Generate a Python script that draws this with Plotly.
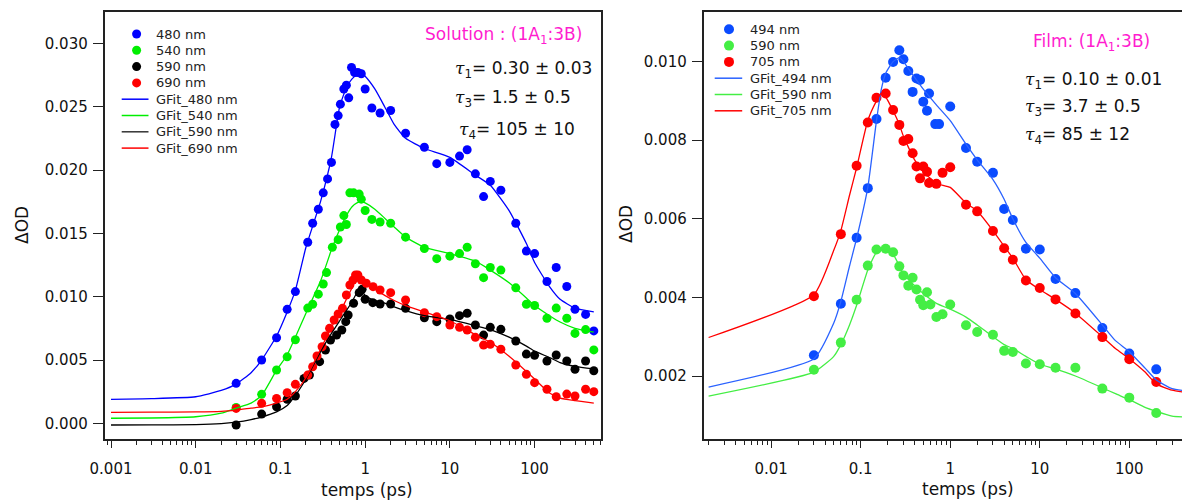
import plotly.graph_objects as go

# ---------------- data: left panel (Solution) ----------------
t_480 = [0.03,0.06,0.09,0.12,0.15,0.21,0.24,0.28,0.32,0.36,0.40,0.44,0.48,0.51,0.56,0.60,0.64,0.69,0.75,0.82,
         0.90,1.0,1.2,1.5,2,3,5,7,10,13,16,20,25,30,40,60,80,100,140,180,240,300,400,500]
v_480 = [0.00316,0.0050,0.00676,0.0090,0.0104,0.0143,0.0158,0.0169,0.0182,0.0193,0.0206,0.0236,0.0243,0.0252,0.0264,
         0.0267,0.0257,0.0281,0.0277,0.0277,0.0276,0.0264,0.0249,0.0245,0.0247,0.0229,0.0218,0.0205,0.0206,0.0211,
         0.0216,0.0197,0.0179,0.0191,0.0184,0.0158,0.0136,0.0134,0.0112,0.0123,0.0108,0.0090,0.0086,0.0073]

t_540 = [0.03,0.06,0.09,0.12,0.15,0.21,0.24,0.28,0.32,0.35,0.41,0.48,0.51,0.56,0.60,0.66,0.73,0.85,0.90,1.0,
         1.2,1.5,2,3,5,7,10,13,16,20,25,30,40,60,80,100,140,180,240,300,400,500]
v_540 = [0.00126,0.00229,0.00421,0.00525,0.0066,0.0091,0.0094,0.0102,0.0110,0.0119,0.0139,0.0145,0.0155,0.0164,
         0.0157,0.0182,0.0182,0.0181,0.0177,0.0168,0.0161,0.0159,0.0158,0.0147,0.0138,0.0130,0.0132,0.0134,0.0139,
         0.0126,0.0115,0.0123,0.0121,0.0107,0.0094,0.0093,0.0083,0.0091,0.0083,0.0071,0.0074,0.0058]

t_590 = [0.03,0.06,0.09,0.12,0.15,0.19,0.22,0.29,0.34,0.39,0.46,0.53,0.59,0.63,0.73,0.85,0.92,1.0,1.23,1.5,
         2,3,5,7,10,13,16,20,25,30,40,60,80,100,140,180,240,300,400,500]
v_590 = [-0.00013,0.00073,0.00131,0.0019,0.00216,0.00355,0.00381,0.00487,0.00579,0.00658,0.00697,0.00737,0.00803,
         0.00855,0.00948,0.01032,0.01058,0.0098,0.00953,0.00942,0.00942,0.00908,0.00834,0.00803,0.00824,0.0085,
         0.00869,0.00776,0.00697,0.00758,0.00742,0.0065,0.00547,0.00537,0.00492,0.0054,0.00492,0.00427,0.00492,0.00415]

t_690 = [0.03,0.06,0.09,0.12,0.15,0.21,0.24,0.27,0.31,0.34,0.38,0.43,0.48,0.54,0.60,0.66,0.72,0.77,0.82,0.90,
         1.03,1.24,1.5,2,3,5,7,10,13,16,20,25,30,40,60,80,100,140,180,240,300,400,500]
v_690 = [0.00118,0.00158,0.00197,0.00242,0.00308,0.00381,0.00447,0.00532,0.00605,0.0069,0.0075,0.00816,0.00863,
         0.00908,0.01013,0.01092,0.01132,0.01171,0.01171,0.01132,0.01106,0.01079,0.01053,0.01032,0.00974,0.00874,
         0.00842,0.00776,0.00758,0.00737,0.00679,0.00618,0.00624,0.00585,0.00461,0.00387,0.00321,0.00269,0.0021,
         0.00231,0.00216,0.00269,0.0025]

fit_t_L = [0.001,0.003,0.01,0.02,0.03,0.045,0.06,0.09,0.12,0.15,0.2,0.3,0.4,0.5,0.6,0.7,0.8,0.9,1.0,1.3,1.7,2.2,
           3,5,10,20,30,50,80,100,150,200,300,500]
fit_480 = [0.0019,0.00195,0.0021,0.0026,0.0031,0.0040,0.0050,0.0069,0.0088,0.0105,0.0139,0.0176,0.0210,0.0250,
           0.0265,0.0272,0.0275,0.02765,0.0274,0.0264,0.0250,0.0236,0.0225,0.0217,0.0210,0.0196,0.0188,0.0168,
           0.0142,0.0127,0.0108,0.0098,0.0091,0.0088]
fit_540 = [0.0004,0.00042,0.00052,0.0008,0.0012,0.0016,0.0022,0.0042,0.0054,0.0068,0.0087,0.0113,0.0137,0.0153,
           0.0164,0.0171,0.0174,0.0175,0.0174,0.0169,0.0162,0.0155,0.0147,0.0139,0.0134,0.0128,0.0121,0.0111,
           0.0099,0.0093,0.0085,0.0080,0.0075,0.0072]
fit_590 = [-0.00013,-0.00012,-0.0001,-0.00002,0.0001,0.0003,0.0005,0.0009,0.0014,0.0022,0.0035,0.0057,0.0071,
           0.0081,0.0089,0.0096,0.0103,0.0105,0.0101,0.0097,0.0095,0.0092,0.0089,0.0085,0.0082,0.0077,0.0074,
           0.0068,0.0061,0.0057,0.0052,0.0048,0.0045,0.0043]
fit_690 = [0.00087,0.00088,0.0009,0.00095,0.00105,0.0012,0.0013,0.0016,0.0019,0.0025,0.0036,0.0059,0.0076,0.0087,
           0.0098,0.0107,0.0115,0.0113,0.0111,0.0106,0.0101,0.0097,0.0093,0.0088,0.0081,0.0070,0.0064,0.0053,
           0.0041,0.0035,0.0024,0.0020,0.0018,0.0016]

# ---------------- data: right panel (Film) ----------------
t_494 = [0.03,0.06,0.09,0.12,0.15,0.19,0.23,0.27,0.30,0.34,0.38,0.42,0.46,0.50,0.55,0.58,0.68,0.75,1.0,1.5,
         2,3,4,5,7,10,15,25,50,100,200]
v_494 = [0.00253,0.00384,0.00552,0.00678,0.00854,0.00959,0.00999,0.01029,0.01006,0.00976,0.00923,0.00957,0.00953,
         0.00898,0.00875,0.00919,0.00841,0.00841,0.00886,0.0078,0.00745,0.00717,0.00625,0.00597,0.00524,0.00522,
         0.00447,0.00411,0.00322,0.00257,0.00217]

t_590f = [0.03,0.06,0.09,0.12,0.15,0.19,0.23,0.27,0.30,0.34,0.38,0.42,0.46,0.50,0.55,0.60,0.70,0.82,1.0,1.5,
          2,3,4,5,7,10,15,25,50,100,200,500]
v_590f = [0.00216,0.00285,0.00394,0.00481,0.00522,0.00524,0.00515,0.00479,0.00456,0.0043,0.0045,0.0042,0.00394,
          0.0038,0.00413,0.00382,0.0035,0.00357,0.00382,0.00329,0.00312,0.00305,0.00264,0.00261,0.00232,0.0023,
          0.00221,0.00221,0.00168,0.00145,0.00106,0.00081]

t_705 = [0.03,0.06,0.09,0.12,0.15,0.19,0.23,0.27,0.30,0.34,0.38,0.42,0.46,0.50,0.55,0.58,0.70,0.82,1.0,1.5,
         2,3,4,5,7,10,15,25,50,100,200,500]
v_705 = [0.00403,0.00561,0.00735,0.00845,0.00908,0.00919,0.00877,0.00839,0.00798,0.00803,0.00767,0.00733,0.00703,
         0.00733,0.0072,0.00691,0.00689,0.00717,0.00731,0.00636,0.00619,0.00569,0.00525,0.00496,0.00443,0.00424,
         0.00395,0.00359,0.00299,0.00243,0.00185,0.00149]

fit_t_R = [0.002,0.03,0.05,0.06,0.075,0.09,0.12,0.15,0.17,0.19,0.23,0.27,0.3,0.4,0.5,0.7,1.0,1.5,2,3,4,5,7,10,
           15,25,50,70,100,150,200,300,500]
fit_494 = [0.00172,0.00244,0.00335,0.0039,0.0048,0.0055,0.0068,0.0085,0.0093,0.0097,0.0100,0.0101,0.0100,0.0096,
           0.0093,0.0089,0.0085,0.0079,0.0075,0.0070,0.0065,0.0060,0.0054,0.0050,0.0045,0.0041,0.0033,0.0029,
           0.00262,0.0022,0.0019,0.00168,0.0016]
fit_590f = [0.00149,0.0021,0.0025,0.0028,0.0033,0.0038,0.0047,0.00515,0.0052,0.0052,0.0051,0.0048,0.0046,0.0043,
            0.0041,0.00385,0.0037,0.0035,0.0033,0.0030,0.0028,0.0027,0.0025,0.0023,0.00218,0.0020,0.0017,0.00155,
            0.0014,0.0012,0.0011,0.00098,0.00095]
fit_705 = [0.00298,0.00407,0.0052,0.0057,0.0066,0.0073,0.0085,0.0090,0.0092,0.0091,0.00875,0.0084,0.0081,0.0075,
           0.0072,0.0069,0.0068,0.0064,0.0062,0.0057,0.0053,0.0050,0.00445,0.0042,0.00395,0.0036,0.0030,0.0027,
           0.00244,0.0021,0.0018,0.00164,0.00156]

x_tickvals_L = [0.001, 0.01, 0.1, 1, 10, 100]
x_ticktext_L = ["0.001", "0.01", "0.1", "1", "10", "100"]
x_tickvals_R = [0.01, 0.1, 1, 10, 100]
x_ticktext_R = ["0.01", "0.1", "1", "10", "100"]
y_tickvals_L = [0.0, 0.005, 0.010, 0.015, 0.020, 0.025, 0.030]
y_tickvals_R = [0.002, 0.004, 0.006, 0.008, 0.010]

# ---------------- styling ----------------
# the page body has an 8px margin: the figure is placed at (8, 8) in the window
OFF = 8
W, H = 1190 - OFF, 503 - OFF
FONT = "DejaVu Sans"
def px(x):
    return (x - OFF) / W
def py(y):
    return 1 - (y - OFF) / H

BLUE_L, GREEN_L, BLACK_L, RED_L = "#0000ff", "#00ee00", "#000000", "#ff0000"
BLUE_R, GREEN_R, RED_R = "#0a4bff", "#44ee44", "#ff0000"
BLUE_RL = "#2a62ff"
PINK = "#ff1ccf"

fig = go.Figure()

def add_points(t, v, color, name, xa, ya, size):
    fig.add_trace(go.Scatter(x=t, y=v, mode="markers", name=name, xaxis=xa, yaxis=ya,
                             marker=dict(color=color, size=size, line=dict(width=0)), showlegend=False))

def add_fit(t, v, color, name, xa, ya):
    fig.add_trace(go.Scatter(x=t, y=v, mode="lines", name=name, xaxis=xa, yaxis=ya,
                             line=dict(color=color, width=1.3, shape="spline", smoothing=0.5),
                             showlegend=False))

add_points(t_480, v_480, BLUE_L, "480 nm", "x", "y", 9)
add_points(t_540, v_540, GREEN_L, "540 nm", "x", "y", 9)
add_points(t_590, v_590, BLACK_L, "590 nm", "x", "y", 9)
add_points(t_690, v_690, RED_L, "690 nm", "x", "y", 9)
add_fit(fit_t_L, fit_480, BLUE_L, "GFit_480 nm", "x", "y")
add_fit(fit_t_L, fit_540, GREEN_L, "GFit_540 nm", "x", "y")
add_fit(fit_t_L, fit_590, BLACK_L, "GFit_590 nm", "x", "y")
add_fit(fit_t_L, fit_690, RED_L, "GFit_690 nm", "x", "y")

add_points(t_494, v_494, BLUE_R, "494 nm", "x2", "y2", 10)
add_points(t_590f, v_590f, GREEN_R, "590 nm", "x2", "y2", 10)
add_points(t_705, v_705, RED_R, "705 nm", "x2", "y2", 10)
add_fit(fit_t_R, fit_494, BLUE_RL, "GFit_494 nm", "x2", "y2")
add_fit(fit_t_R, fit_590f, GREEN_R, "GFit_590 nm", "x2", "y2")
add_fit(fit_t_R, fit_705, RED_R, "GFit_705 nm", "x2", "y2")

LINE_C = "#222222"
common_x = dict(type="log", showgrid=False, zeroline=False, showline=True, linecolor=LINE_C, linewidth=1.5,
                mirror=True, ticks="outside", ticklen=7, tickwidth=1, tickcolor=LINE_C, automargin=False,
                tickfont=dict(family=FONT, size=15, color="#111"), tickmode="array",
                minor=dict(ticks="outside", ticklen=4, tickwidth=1, tickcolor=LINE_C, dtick="D1", showgrid=False),
                ticklabelstandoff=8)
common_y = dict(showgrid=False, zeroline=False, showline=True, linecolor=LINE_C, linewidth=1.5,
                ticks="outside", ticklen=10, tickwidth=1, tickcolor=LINE_C, automargin=False,
                tickfont=dict(family=FONT, size=15, color="#111"), tickmode="array", tickformat=".3f",
                ticklabelstandoff=2)

ydom = [py(439.3), py(11.7)]
fig.update_layout(
    width=W, height=H, margin=dict(l=0, r=0, t=0, b=0, autoexpand=False),
    paper_bgcolor="white", plot_bgcolor="white", showlegend=False,
    xaxis=dict(common_x, domain=[px(104.5), px(601)], range=[-3.077, 2.784], anchor="y",
               tickvals=x_tickvals_L, ticktext=x_ticktext_L),
    yaxis=dict(common_y, domain=ydom, range=[-0.00126, 0.0325], anchor="x", mirror=True,
               tickvals=y_tickvals_L),
    xaxis2=dict(common_x, domain=[px(703.5), 1.0], range=[-2.756, 2.678], anchor="y2",
                tickvals=x_tickvals_R, ticktext=x_ticktext_R),
    yaxis2=dict(common_y, domain=ydom, range=[0.00039, 0.01127], anchor="x2", mirror=False,
                tickvals=y_tickvals_R),
)

ann = []
shapes = []

def text(x, y, s, size, color="#111", xanchor="left", family=FONT, angle=0):
    ann.append(dict(x=px(x), y=py(y), xref="paper", yref="paper", text=s, showarrow=False,
                    xanchor=xanchor, yanchor="middle", textangle=angle,
                    font=dict(family=family, size=size, color=color)))

# axis titles
text(367, 490, "temps (ps)", 17, xanchor="center")
text(968, 489, "temps (ps)", 17, xanchor="center")
text(22, 225, "ΔOD", 17, xanchor="center", angle=-90)
text(626, 224, "ΔOD", 17, xanchor="center", angle=-90)

# legends
leg_L = [("480 nm", BLUE_L, "m"), ("540 nm", GREEN_L, "m"), ("590 nm", BLACK_L, "m"), ("690 nm", RED_L, "m"),
         ("GFit_480 nm", BLUE_L, "l"), ("GFit_540 nm", GREEN_L, "l"), ("GFit_590 nm", "#333333", "l"),
         ("GFit_690 nm", RED_L, "l")]
def legend(items, y0, step, mx, lx0, lx1, tx, r):
    for i, (lab, col, kind) in enumerate(items):
        yc = y0 + i * step
        if kind == "m":
            shapes.append(dict(type="circle", xref="paper", yref="paper",
                               x0=px(mx - r), x1=px(mx + r), y0=py(yc + r), y1=py(yc - r),
                               fillcolor=col, line=dict(width=0)))
        else:
            shapes.append(dict(type="line", xref="paper", yref="paper",
                               x0=px(lx0), x1=px(lx1), y0=py(yc), y1=py(yc),
                               line=dict(color=col, width=1.5)))
        text(tx, yc, lab, 13, color="#222")

legend(leg_L, 34, 16.3, 136.6, 121.7, 148.5, 154, 4.5)
leg_R = [("494 nm", BLUE_R, "m"), ("590 nm", GREEN_R, "m"), ("705 nm", RED_R, "m"),
         ("GFit_494 nm", BLUE_RL, "l"), ("GFit_590 nm", GREEN_R, "l"), ("GFit_705 nm", RED_R, "l")]
legend(leg_R, 29.3, 16.3, 729, 714.7, 742.2, 747.5, 5)

# annotations
TAU = '<span style="font-family:DejaVu Serif;font-style:italic">τ</span>'
text(503, 35, "Solution : (1A<sub>1</sub>:3B)", 17, color=PINK, xanchor="center")
text(453, 69, TAU + "<sub>1</sub>= 0.30 ± 0.03", 17)
text(453, 99, TAU + "<sub>3</sub>= 1.5 ± 0.5", 17)
text(457, 130, TAU + "<sub>4</sub>= 105 ± 10", 17)

text(1091, 42, "Film: (1A<sub>1</sub>:3B)", 17, color=PINK, xanchor="center")
text(1023, 80, TAU + "<sub>1</sub>= 0.10 ± 0.01", 17)
text(1023, 108, TAU + "<sub>3</sub>= 3.7 ± 0.5", 17)
text(1023, 135, TAU + "<sub>4</sub>= 85 ± 12", 17)

fig.update_layout(annotations=ann, shapes=shapes)
fig.write_html("out.html")
